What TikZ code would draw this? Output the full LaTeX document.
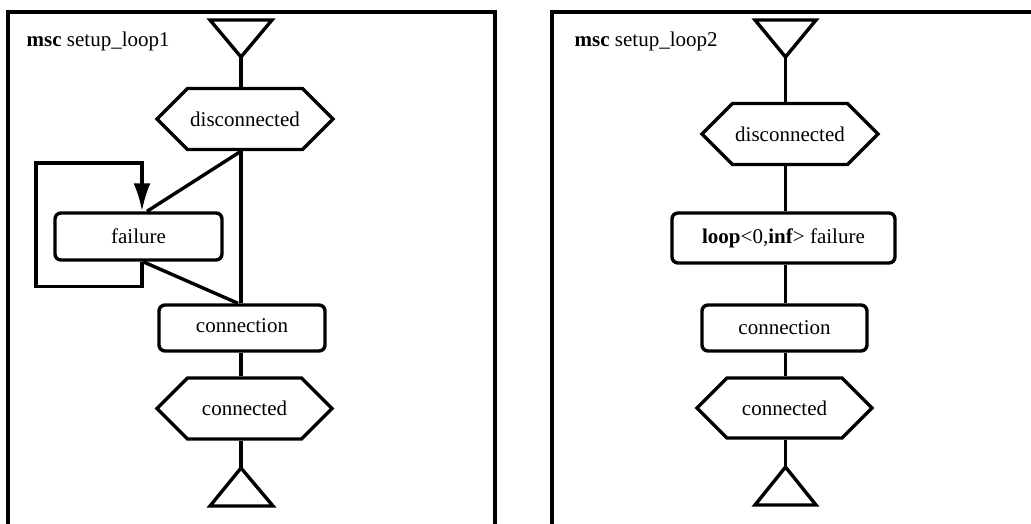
\documentclass[tikz,border=0pt]{standalone}
\usepackage{fontspec}
\setmainfont{Liberation Serif}
\usetikzlibrary{shapes.symbols,arrows.meta}
\begin{document}
\begin{tikzpicture}[x=1pt,y=-1pt,line width=3.4pt,line join=miter,
  font=\fontsize{21}{25}\selectfont,
  hexa/.style={draw,fill=white,signal,signal to=east and west,signal pointer angle=90,inner sep=0pt,minimum height=61,minimum width=176},
  rbox/.style={draw,fill=white,rounded corners=6,inner sep=0pt,minimum height=47},
  frameline/.style={line width=3.2pt,line cap=butt},
  tip/.style={-{Latex[length=28,width=17]}}]
\useasboundingbox (0,0) rectangle (1031,523);
% frames
\draw[frameline] (8,524) -- (8,12) -- (495,12) -- (495,524);
\draw[frameline] (552,524) -- (552,12) -- (1032,12);
\node[anchor=base west,inner sep=0pt] (titleL) at (25,46) {\textbf{msc} setup\_loop1};
\node[anchor=base west,inner sep=0pt] (titleR) at (573,46) {\textbf{msc} setup\_loop2};

% ---------- left diagram ----------
\coordinate (topL) at (241,57);
\coordinate (botL) at (241,468);
\draw (210,20) -- (272,20) -- (topL) -- cycle;
\draw (botL) -- (273,506) -- (210,506) -- cycle;
\node[hexa] (disL) at (245,119) {disconnected};
\node[rbox,minimum width=167] (failL) at (138.5,236.5) {failure};
\node[rbox,minimum width=166,minimum height=46] (connL) at (242,328) {\raisebox{5pt}{connection}};
\node[hexa,minimum width=175] (condL) at (244.5,408.5) {connected};
\coordinate (loopx) at (142,0);
\coordinate (loopl) at (36,0);
\draw (topL) -- (topL |- disL.north);
\draw (topL |- disL.south) -- (topL |- connL.north);
\draw (topL |- disL.south) -- ([xshift=8.5pt]failL.north);
\draw ([xshift=4.5pt]failL.south) -- ([xshift=-3pt]topL |- connL.north);
\draw (topL |- connL.south) -- (topL |- condL.north);
\draw (topL |- condL.south) -- (botL);
\draw[tip] (loopx |- failL.south) -- ++(0,25) -| (loopl |- 0,163) -| (loopx |- failL.north);

% ---------- right diagram ----------
\coordinate (topR) at (785.5,57);
\coordinate (botR) at (785.5,467);
\draw (755,20) -- (816,20) -- (topR) -- cycle;
\draw (botR) -- (816,505) -- (755,505) -- cycle;
\node[hexa] (disR) at (790,134) {disconnected};
\node[rbox,minimum width=223,minimum height=50] (loopR) at (783.5,238) {\textbf{loop}<0,\textbf{inf}> failure};
\node[rbox,minimum width=165,minimum height=46] (connR) at (784.5,328) {connection};
\node[hexa,minimum width=175,minimum height=60] (condR) at (784.5,408) {connected};
\draw (topR) -- (topR |- disR.north);
\draw (topR |- disR.south) -- (topR |- loopR.north);
\draw (topR |- loopR.south) -- (topR |- connR.north);
\draw (topR |- connR.south) -- (topR |- condR.north);
\draw (topR |- condR.south) -- (botR);
\end{tikzpicture}
\end{document}
